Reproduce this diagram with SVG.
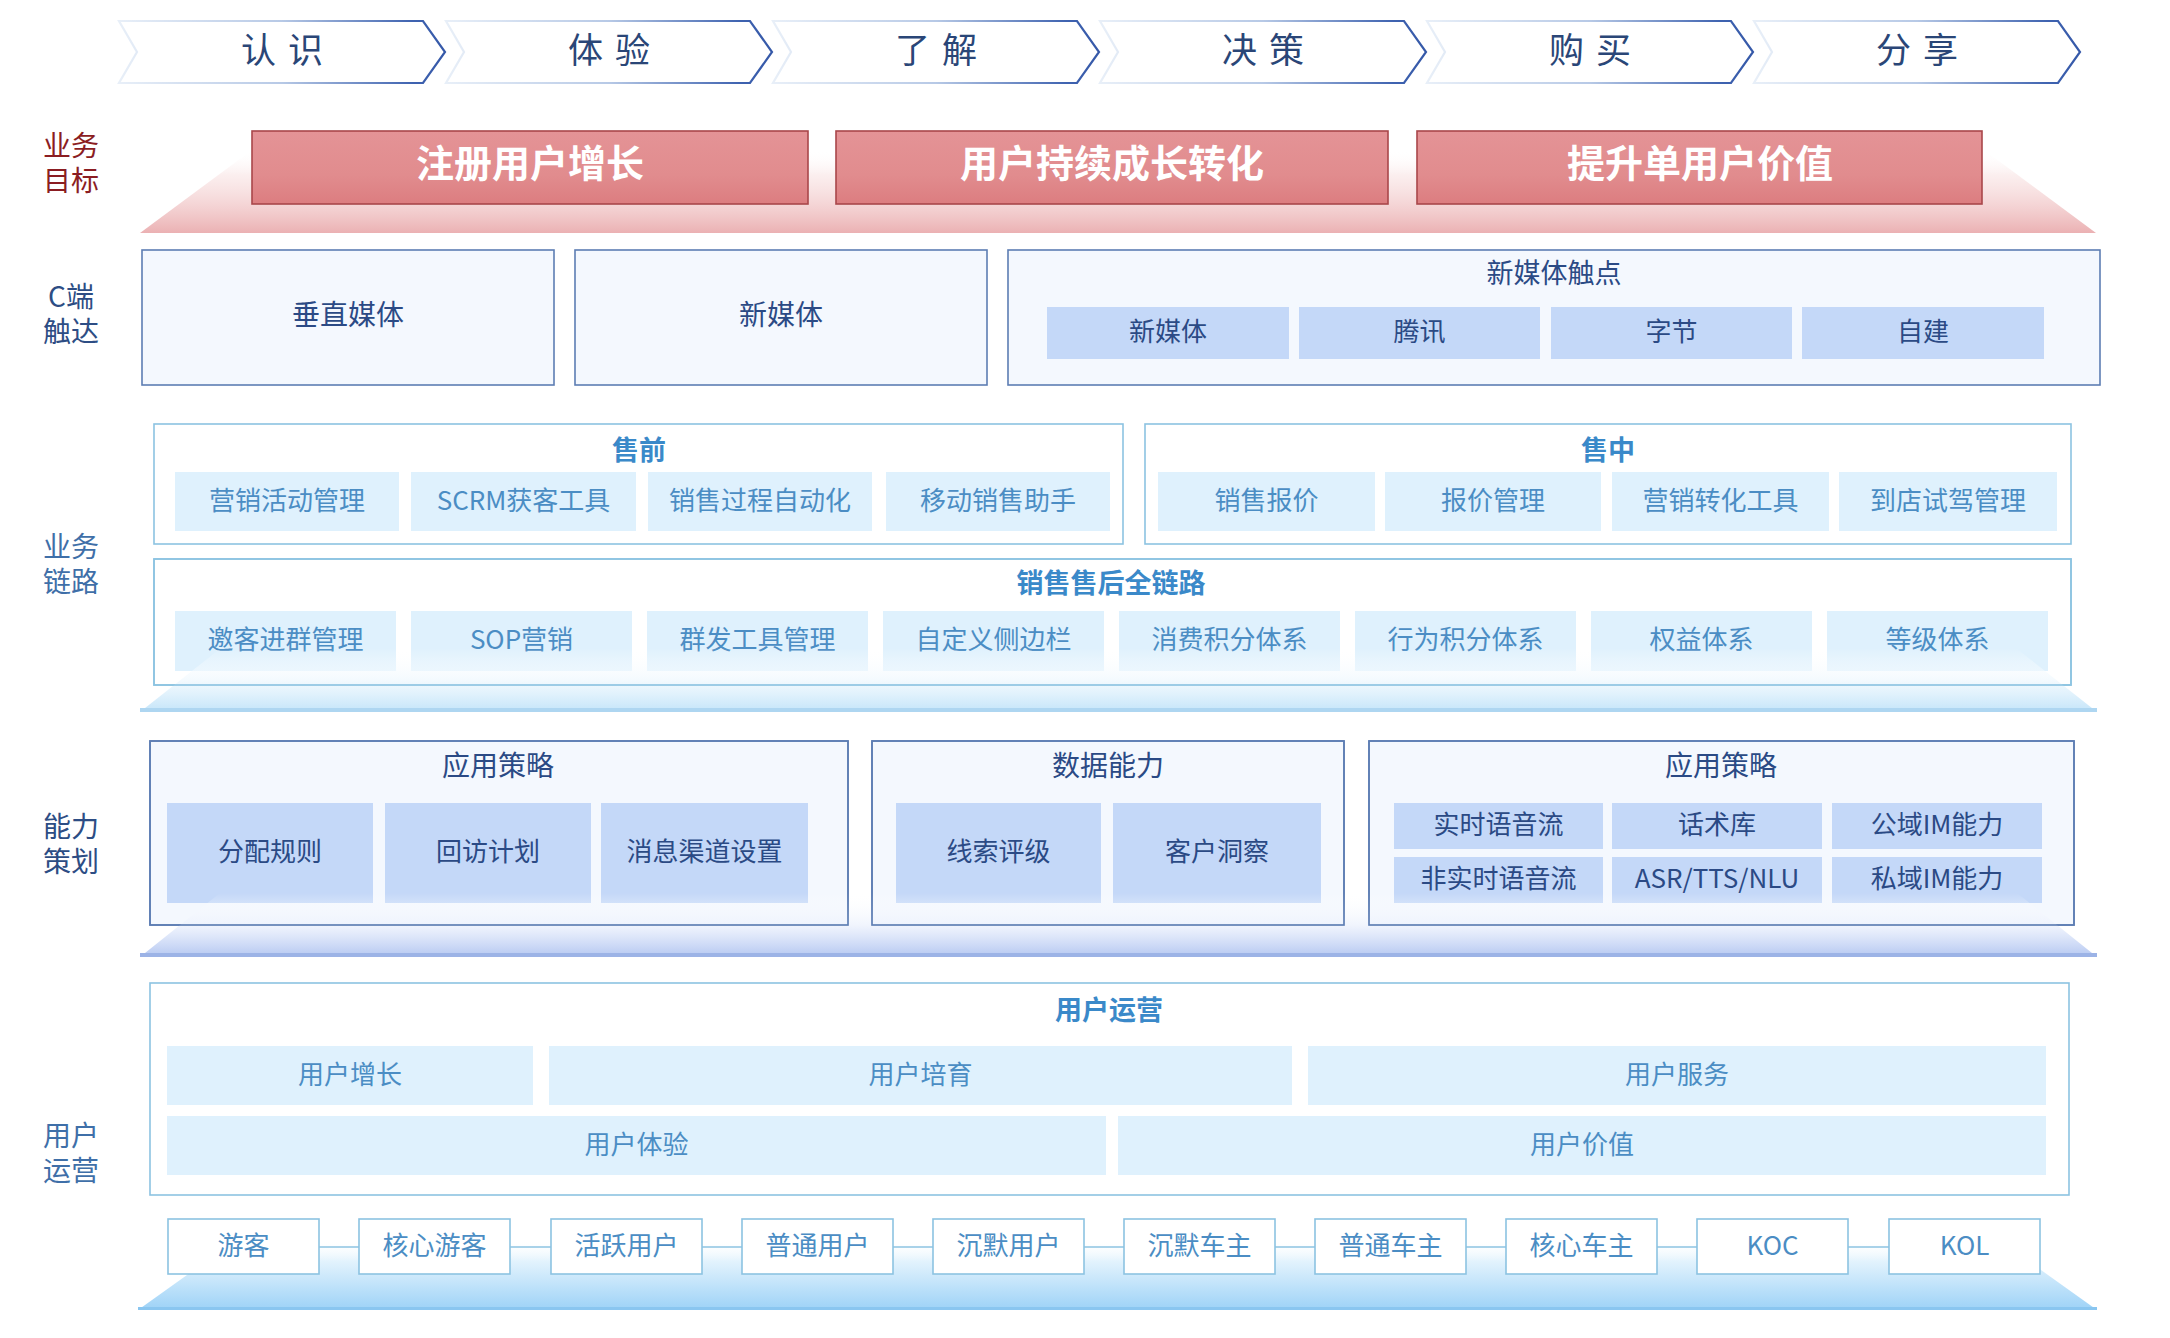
<svg xmlns="http://www.w3.org/2000/svg" width="2170" height="1338" viewBox="0 0 2170 1338">
<defs>
<style>
text{font-family:"Noto Sans CJK SC","Liberation Sans",sans-serif;dominant-baseline:central;text-anchor:middle;transform:translateY(-4px)}
.chev{fill:#fff;stroke:url(#chevStroke);stroke-width:2.2}
.chev-t{font-size:35px;fill:#2a4677;letter-spacing:12px;transform:translateY(-5px)}
.goal{fill:url(#redFill);stroke:#a9464a;stroke-width:1.6}
.goal-t{font-size:38px;font-weight:700;fill:#fff;transform:translateY(-7px)}
.lbl{font-size:28px;transform:translateY(-3px)}
.lbl-r{fill:#8b1d22}
.lbl-d{fill:#2d4d84}
.lbl-s{fill:#3f6fa8}
.dbox{fill:#f4f8fe;stroke:#5d7db3;stroke-width:1.6}
.dline{fill:none;stroke:#5d7db3;stroke-width:1.6}
.ditem{fill:#c4d8f8}
.dt{font-size:28px;fill:#2b4a85}
.di{font-size:26px;fill:#2b4a85}
.sbox{fill:#fff;stroke:#8cc3e2;stroke-width:1.6}
.sline{fill:none;stroke:#8cc3e2;stroke-width:1.6}
.sitem{fill:#dff1fd}
.st{font-size:27px;font-weight:700;fill:#3a89c9}
.si{font-size:26px;fill:#4b8dc4}
.cbox{fill:#fff;stroke:#8cc3e2;stroke-width:1.6}
.conn{stroke:#8cc3e2;stroke-width:1.6}
</style>
<linearGradient id="chevStroke" x1="0" y1="0" x2="1" y2="0">
<stop offset="0" stop-color="#e8eff8"/>
<stop offset="0.5" stop-color="#b7c9e6"/>
<stop offset="0.9" stop-color="#3f63b0"/>
<stop offset="1" stop-color="#3558a8"/>
</linearGradient>
<linearGradient id="redFill" x1="0" y1="0" x2="0" y2="1">
<stop offset="0" stop-color="#e49396"/>
<stop offset="0.6" stop-color="#e18c8e"/>
<stop offset="1" stop-color="#dc7d80"/>
</linearGradient>
<linearGradient id="redBand" x1="0" y1="150" x2="0" y2="233" gradientUnits="userSpaceOnUse">
<stop offset="0" stop-color="#ffffff" stop-opacity="0"/>
<stop offset="0.3" stop-color="#f7dede" stop-opacity="0.5"/>
<stop offset="1" stop-color="#ebb1b3"/>
</linearGradient>
<linearGradient id="bandA" x1="0" y1="648" x2="0" y2="712" gradientUnits="userSpaceOnUse">
<stop offset="0" stop-color="#ffffff" stop-opacity="0"/>
<stop offset="0.5" stop-color="#f1f9fe" stop-opacity="0.8"/>
<stop offset="1" stop-color="#c3e4f9"/>
</linearGradient>
<linearGradient id="bandB" x1="0" y1="893" x2="0" y2="957" gradientUnits="userSpaceOnUse">
<stop offset="0" stop-color="#ffffff" stop-opacity="0"/>
<stop offset="0.5" stop-color="#edf2fd" stop-opacity="0.8"/>
<stop offset="1" stop-color="#b4c7f1"/>
</linearGradient>
<linearGradient id="bandC" x1="0" y1="1240" x2="0" y2="1310" gradientUnits="userSpaceOnUse">
<stop offset="0" stop-color="#ffffff" stop-opacity="0"/>
<stop offset="0.3" stop-color="#e3f3fd"/>
<stop offset="1" stop-color="#9dd2f7"/>
</linearGradient>
</defs>
<rect width="2170" height="1338" fill="#ffffff"/>

<!-- stage chevrons -->
<g id="stages">
<g id="stage-1"><path class="chev" d="M119,21 L423,21 L445,52 L423,83 L119,83 L137,52 Z"/><text class="chev-t" x="288" y="52">认识</text></g>
<g id="stage-2"><path class="chev" d="M446,21 L750,21 L772,52 L750,83 L446,83 L464,52 Z"/><text class="chev-t" x="615" y="52">体验</text></g>
<g id="stage-3"><path class="chev" d="M773,21 L1077,21 L1099,52 L1077,83 L773,83 L791,52 Z"/><text class="chev-t" x="942" y="52">了解</text></g>
<g id="stage-4"><path class="chev" d="M1100,21 L1404,21 L1426,52 L1404,83 L1100,83 L1118,52 Z"/><text class="chev-t" x="1269" y="52">决策</text></g>
<g id="stage-5"><path class="chev" d="M1427,21 L1731,21 L1753,52 L1731,83 L1427,83 L1445,52 Z"/><text class="chev-t" x="1596" y="52">购买</text></g>
<g id="stage-6"><path class="chev" d="M1754,21 L2058,21 L2080,52 L2058,83 L1754,83 L1772,52 Z"/><text class="chev-t" x="1923" y="52">分享</text></g>
</g>

<!-- row labels -->
<g id="row-labels">
<text class="lbl lbl-r"><tspan x="71" y="147">业务</tspan><tspan x="71" y="182">目标</tspan></text>
<text class="lbl lbl-d"><tspan x="71" y="298">C端</tspan><tspan x="71" y="333">触达</tspan></text>
<text class="lbl lbl-s"><tspan x="71" y="548">业务</tspan><tspan x="71" y="583">链路</tspan></text>
<text class="lbl lbl-d"><tspan x="71" y="828">能力</tspan><tspan x="71" y="863">策划</tspan></text>
<text class="lbl lbl-s"><tspan x="71" y="1137">用户</tspan><tspan x="71" y="1172">运营</tspan></text>
</g>

<!-- business goals -->
<polygon id="goal-band" points="140,233 2096,233 1984,150 252,150" fill="url(#redBand)"/>
<g id="goal-1"><rect class="goal" x="252" y="131" width="556" height="73"/><text class="goal-t" x="530" y="167">注册用户增长</text></g>
<g id="goal-2"><rect class="goal" x="836" y="131" width="552" height="73"/><text class="goal-t" x="1112" y="167">用户持续成长转化</text></g>
<g id="goal-3"><rect class="goal" x="1417" y="131" width="565" height="73"/><text class="goal-t" x="1700" y="167">提升单用户价值</text></g>

<!-- C-end reach -->
<g id="vertical-media"><rect class="dbox" x="142" y="250" width="412" height="135"/><text class="dt" x="348" y="317">垂直媒体</text></g>
<g id="new-media"><rect class="dbox" x="575" y="250" width="412" height="135"/><text class="dt" x="781" y="317">新媒体</text></g>
<g id="new-media-touchpoints">
<rect class="dbox" x="1008" y="250" width="1092" height="135"/>
<text class="dt" x="1554" y="275" style="font-size:27px">新媒体触点</text>
<rect class="ditem" x="1047" y="307" width="242" height="52"/><text class="di" x="1168" y="333">新媒体</text>
<rect class="ditem" x="1299" y="307" width="241" height="52"/><text class="di" x="1419.5" y="333">腾讯</text>
<rect class="ditem" x="1551" y="307" width="241" height="52"/><text class="di" x="1671.5" y="333">字节</text>
<rect class="ditem" x="1802" y="307" width="242" height="52"/><text class="di" x="1923" y="333">自建</text>
</g>

<!-- business chain -->
<g id="presale">
<rect class="sbox" x="154" y="424" width="969" height="120"/>
<text class="st" x="639" y="452">售前</text>
<rect class="sitem" x="175" y="472" width="224" height="59"/><text class="si" x="287" y="502">营销活动管理</text>
<rect class="sitem" x="411" y="472" width="225" height="59"/><text class="si" x="523.5" y="502">SCRM获客工具</text>
<rect class="sitem" x="648" y="472" width="224" height="59"/><text class="si" x="760" y="502">销售过程自动化</text>
<rect class="sitem" x="886" y="472" width="224" height="59"/><text class="si" x="998" y="502">移动销售助手</text>
</g>
<g id="insale">
<rect class="sbox" x="1145" y="424" width="926" height="120"/>
<text class="st" x="1608" y="452">售中</text>
<rect class="sitem" x="1158" y="472" width="217" height="59"/><text class="si" x="1266.5" y="502">销售报价</text>
<rect class="sitem" x="1385" y="472" width="216" height="59"/><text class="si" x="1493" y="502">报价管理</text>
<rect class="sitem" x="1612" y="472" width="217" height="59"/><text class="si" x="1720.5" y="502">营销转化工具</text>
<rect class="sitem" x="1839" y="472" width="218" height="59"/><text class="si" x="1948" y="502">到店试驾管理</text>
</g>
<g id="full-chain">
<rect class="sbox" x="154" y="559" width="1917" height="126"/>
<text class="st" x="1111" y="585">销售售后全链路</text>
<rect class="sitem" x="175" y="611" width="221" height="60"/><text class="si" x="285.5" y="641">邀客进群管理</text>
<rect class="sitem" x="411" y="611" width="221" height="60"/><text class="si" x="521.5" y="641">SOP营销</text>
<rect class="sitem" x="647" y="611" width="221" height="60"/><text class="si" x="757.5" y="641">群发工具管理</text>
<rect class="sitem" x="883" y="611" width="221" height="60"/><text class="si" x="993.5" y="641">自定义侧边栏</text>
<rect class="sitem" x="1119" y="611" width="221" height="60"/><text class="si" x="1229.5" y="641">消费积分体系</text>
<rect class="sitem" x="1355" y="611" width="221" height="60"/><text class="si" x="1465.5" y="641">行为积分体系</text>
<rect class="sitem" x="1591" y="611" width="221" height="60"/><text class="si" x="1701.5" y="641">权益体系</text>
<rect class="sitem" x="1827" y="611" width="221" height="60"/><text class="si" x="1937.5" y="641">等级体系</text>
</g>
<g id="band-a">
<polygon points="140,712 2097,712 2016,648 221,648" fill="url(#bandA)"/>
<rect x="140" y="708" width="1957" height="4" fill="#aed6f1"/>
<rect class="sline" x="154" y="559" width="1917" height="126"/>
</g>

<!-- capability -->
<g id="app-strategy-1">
<rect class="dbox" x="150" y="741" width="698" height="184"/>
<text class="dt" x="498" y="768">应用策略</text>
<rect class="ditem" x="167" y="803" width="206" height="100"/><text class="di" x="270" y="853">分配规则</text>
<rect class="ditem" x="385" y="803" width="206" height="100"/><text class="di" x="488" y="853">回访计划</text>
<rect class="ditem" x="601" y="803" width="207" height="100"/><text class="di" x="704.5" y="853">消息渠道设置</text>
</g>
<g id="data-capability">
<rect class="dbox" x="872" y="741" width="472" height="184"/>
<text class="dt" x="1108" y="768">数据能力</text>
<rect class="ditem" x="896" y="803" width="205" height="100"/><text class="di" x="998.5" y="853">线索评级</text>
<rect class="ditem" x="1113" y="803" width="208" height="100"/><text class="di" x="1217" y="853">客户洞察</text>
</g>
<g id="app-strategy-2">
<rect class="dbox" x="1369" y="741" width="705" height="184"/>
<text class="dt" x="1721" y="768">应用策略</text>
<rect class="ditem" x="1394" y="803" width="209" height="46"/><text class="di" x="1498.5" y="826">实时语音流</text>
<rect class="ditem" x="1612" y="803" width="210" height="46"/><text class="di" x="1717" y="826">话术库</text>
<rect class="ditem" x="1832" y="803" width="210" height="46"/><text class="di" x="1937" y="826">公域IM能力</text>
<rect class="ditem" x="1394" y="857" width="209" height="46"/><text class="di" x="1498.5" y="880">非实时语音流</text>
<rect class="ditem" x="1612" y="857" width="210" height="46"/><text class="di" x="1717" y="880">ASR/TTS/NLU</text>
<rect class="ditem" x="1832" y="857" width="210" height="46"/><text class="di" x="1937" y="880">私域IM能力</text>
</g>
<g id="band-b">
<polygon points="140,957 2097,957 2017,893 220,893" fill="url(#bandB)"/>
<rect x="140" y="953" width="1957" height="4" fill="#9cb3e6"/>
<rect class="dline" x="150" y="741" width="698" height="184"/>
<rect class="dline" x="872" y="741" width="472" height="184"/>
<rect class="dline" x="1369" y="741" width="705" height="184"/>
</g>

<!-- user operation -->
<g id="user-ops">
<rect class="sbox" x="150" y="983" width="1919" height="212"/>
<text class="st" x="1109" y="1012">用户运营</text>
<rect class="sitem" x="167" y="1046" width="366" height="59"/><text class="si" x="350" y="1076">用户增长</text>
<rect class="sitem" x="549" y="1046" width="743" height="59"/><text class="si" x="920.5" y="1076">用户培育</text>
<rect class="sitem" x="1308" y="1046" width="738" height="59"/><text class="si" x="1677" y="1076">用户服务</text>
<rect class="sitem" x="167" y="1116" width="939" height="59"/><text class="si" x="636.5" y="1146">用户体验</text>
<rect class="sitem" x="1118" y="1116" width="928" height="59"/><text class="si" x="1582" y="1146">用户价值</text>
</g>
<g id="band-c">
<polygon points="138,1310 2097,1310 1999,1240 236,1240" fill="url(#bandC)"/>
<rect x="138" y="1307" width="1959" height="3" fill="#8ac6f0"/>
</g>

<g id="connectors">
<line class="conn" x1="319" y1="1247" x2="359" y2="1247"/>
<line class="conn" x1="510" y1="1247" x2="551" y2="1247"/>
<line class="conn" x1="702" y1="1247" x2="742" y2="1247"/>
<line class="conn" x1="893" y1="1247" x2="933" y2="1247"/>
<line class="conn" x1="1084" y1="1247" x2="1124" y2="1247"/>
<line class="conn" x1="1275" y1="1247" x2="1315" y2="1247"/>
<line class="conn" x1="1466" y1="1247" x2="1506" y2="1247"/>
<line class="conn" x1="1657" y1="1247" x2="1697" y2="1247"/>
<line class="conn" x1="1848" y1="1247" x2="1889" y2="1247"/>
</g>
<g id="u-1"><rect class="cbox" x="168" y="1219" width="151" height="55"/><text class="si" x="243.5" y="1247">游客</text></g>
<g id="u-2"><rect class="cbox" x="359" y="1219" width="151" height="55"/><text class="si" x="434.5" y="1247">核心游客</text></g>
<g id="u-3"><rect class="cbox" x="551" y="1219" width="151" height="55"/><text class="si" x="626.5" y="1247">活跃用户</text></g>
<g id="u-4"><rect class="cbox" x="742" y="1219" width="151" height="55"/><text class="si" x="817.5" y="1247">普通用户</text></g>
<g id="u-5"><rect class="cbox" x="933" y="1219" width="151" height="55"/><text class="si" x="1008.5" y="1247">沉默用户</text></g>
<g id="u-6"><rect class="cbox" x="1124" y="1219" width="151" height="55"/><text class="si" x="1199.5" y="1247">沉默车主</text></g>
<g id="u-7"><rect class="cbox" x="1315" y="1219" width="151" height="55"/><text class="si" x="1390.5" y="1247">普通车主</text></g>
<g id="u-8"><rect class="cbox" x="1506" y="1219" width="151" height="55"/><text class="si" x="1581.5" y="1247">核心车主</text></g>
<g id="u-9"><rect class="cbox" x="1697" y="1219" width="151" height="55"/><text class="si" x="1772.5" y="1247">KOC</text></g>
<g id="u-10"><rect class="cbox" x="1889" y="1219" width="151" height="55"/><text class="si" x="1964.5" y="1247">KOL</text></g>
</svg>
